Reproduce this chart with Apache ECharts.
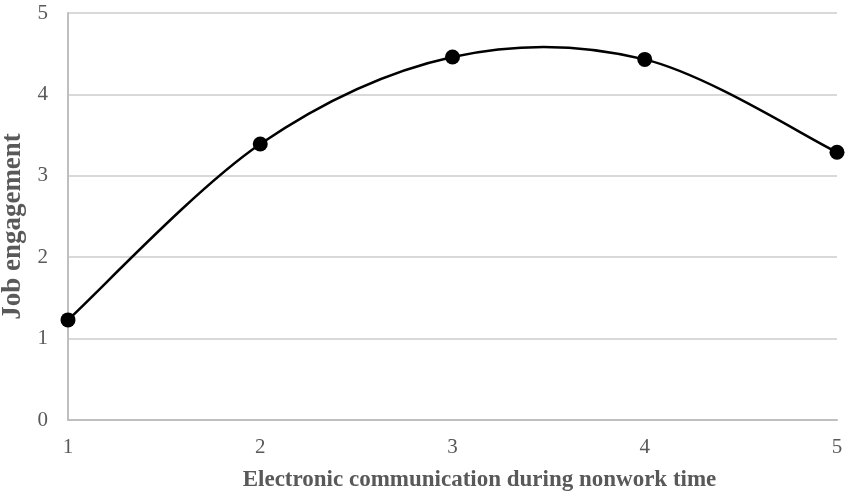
<!DOCTYPE html>
<html><head><meta charset="utf-8">
<script src="https://cdn.jsdelivr.net/npm/echarts@6/dist/echarts.min.js"></script>
<style>html,body{margin:0;padding:0;background:#fff}#c{width:851px;height:502px}</style>
</head><body><div id="c"></div>
<script>
const xValues = [1, 2, 3, 4, 5];
const yValues = [1.23, 3.39, 4.46, 4.43, 3.29];
const xTicks = [1, 2, 3, 4, 5];
const yTicks = [0, 1, 2, 3, 4, 5];
const xTitle = 'Electronic communication during nonwork time';
const yTitle = 'Job engagement';

const points = xValues.map((x, i) => [x, yValues[i]]);

// Smoothed curve (Catmull-Rom style Bezier, like spreadsheet smoothing), using axis scales via api.coord
function renderCurve(params, api) {
  if (params.dataIndex !== 0) return null;
  const p = points.map(d => api.coord(d));
  let d = 'M' + p[0][0] + ' ' + p[0][1];
  for (let i = 0; i < p.length - 1; i++) {
    const p0 = p[Math.max(i - 1, 0)], p1 = p[i], p2 = p[i + 1], p3 = p[Math.min(i + 2, p.length - 1)];
    const c1 = [p1[0] + (p2[0] - p0[0]) / 6, p1[1] + (p2[1] - p0[1]) / 6];
    const c2 = [p2[0] - (p3[0] - p1[0]) / 6, p2[1] - (p3[1] - p1[1]) / 6];
    d += ' C' + c1[0] + ' ' + c1[1] + ' ' + c2[0] + ' ' + c2[1] + ' ' + p2[0] + ' ' + p2[1];
  }
  return {
    type: 'path',
    shape: {pathData: d},
    style: {fill: null, stroke: '#000', lineWidth: 2.5}
  };
}

const chart = echarts.init(document.getElementById('c'));
chart.setOption({
  animation: false,
  grid: {left: 68, right: 14, top: 13, bottom: 82, outerBoundsMode: 'none', containLabel: false},
  xAxis: {
    type: 'value', min: 1, max: 5, interval: 1,
    name: xTitle, nameLocation: 'middle', nameGap: 49,
    nameTextStyle: {fontFamily: 'Liberation Serif', fontSize: 23, fontWeight: 'bold', color: '#595959',
      padding: [0, 0, 0, 54]},
    axisLine: {show: true, lineStyle: {color: '#bfbfbf', width: 2}},
    axisTick: {show: false},
    splitLine: {show: false},
    axisLabel: {fontFamily: 'Liberation Serif', fontSize: 21, color: '#595959', margin: 17,
      formatter: v => xTicks.includes(v) ? String(v) : ''}
  },
  yAxis: {
    type: 'value', min: 0, max: 5, interval: 1,
    name: yTitle, nameLocation: 'middle', nameGap: 37,
    nameTextStyle: {fontFamily: 'Liberation Serif', fontSize: 27, fontWeight: 'bold', color: '#595959',
      padding: [0, 20, 0, 0]},
    axisLine: {show: true, lineStyle: {color: '#bfbfbf', width: 2}},
    axisTick: {show: false},
    splitLine: {show: true, lineStyle: {color: '#d9d9d9', width: 2}},
    axisLabel: {fontFamily: 'Liberation Serif', fontSize: 21, color: '#595959', margin: 20,
      formatter: v => yTicks.includes(v) ? String(v) : ''}
  },
  series: [{
    type: 'custom',
    data: points,
    renderItem: renderCurve,
    silent: true,
    z: 2
  }, {
    type: 'scatter',
    data: points,
    symbol: 'circle', symbolSize: 15,
    itemStyle: {color: '#000', opacity: 1},
    z: 3
  }]
});
</script></body></html>
